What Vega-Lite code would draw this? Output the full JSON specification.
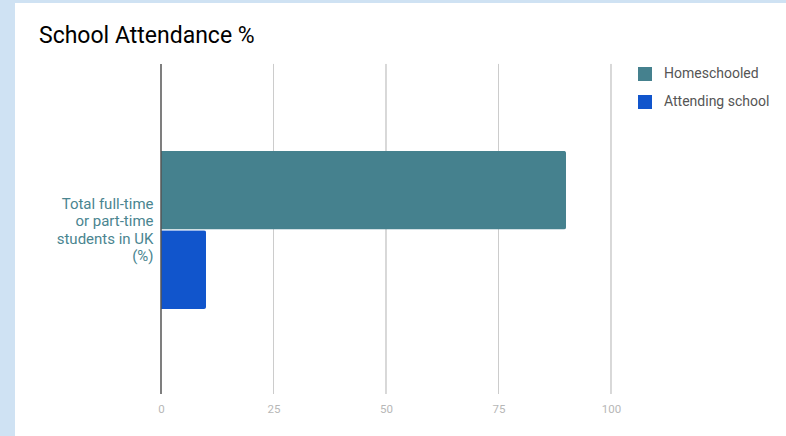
{
  "$schema": "https://vega.github.io/schema/vega-lite/v6.json",
  "width": 771,
  "height": 433,
  "autosize": "none",
  "padding": {"left": 15, "top": 3, "right": 0, "bottom": 0},
  "background": "#cfe2f3",
  "title": {
    "text": "School Attendance %",
    "anchor": "start",
    "frame": "group",
    "offset": 0,
    "baseline": "alphabetic",
    "dx": 24,
    "dy": 63,
    "fontSize": 23,
    "fontWeight": "normal",
    "color": "#000000",
    "font": "Roboto"
  },
  "datasets": {
    "bars": [
      {"cat": "Total full-time\nor part-time\nstudents in UK\n(%)", "series": "Homeschooled", "value": 90},
      {"cat": "Total full-time\nor part-time\nstudents in UK\n(%)", "series": "Attending school", "value": 10}
    ],
    "grid": [
      {"g": "grid", "v": 0},
      {"g": "grid", "v": 25},
      {"g": "grid", "v": 50},
      {"g": "grid", "v": 75},
      {"g": "grid", "v": 100}
    ]
  },
  "layer": [
    {
      "data": {"name": "grid"},
      "transform": [{"filter": "datum.v > 0"}],
      "mark": {"type": "rect", "fill": null, "stroke": "#cccccc", "strokeWidth": 1},
      "encoding": {
        "x": {
          "field": "v",
          "type": "quantitative",
          "scale": {"domain": [-32.444, 138.889], "nice": false, "zero": false},
          "axis": {
            "values": [0, 25, 50, 75, 100],
            "grid": false,
            "domain": false,
            "ticks": false,
            "tickSize": 0,
            "labelPadding": 0,
            "offset": -33,
            "labelFontSize": 11.5,
            "labelColor": "#b7b7b7",
            "labelFont": "Roboto",
            "title": null
          }
        },
        "x2": {"field": "v"},
        "y": {
          "field": "g",
          "type": "nominal",
          "scale": {"paddingInner": 0, "paddingOuter": 0.156, "align": 0.592},
          "axis": null
        }
      }
    },
    {
      "data": {"name": "bars"},
      "mark": {"type": "bar", "cornerRadiusEnd": 2},
      "encoding": {
        "x": {"field": "value", "type": "quantitative"},
        "y": {
          "field": "cat",
          "type": "nominal",
          "scale": {"paddingInner": 0, "paddingOuter": 0.87, "align": 0.538},
          "axis": {
            "title": null,
            "domain": false,
            "ticks": false,
            "tickSize": 0,
            "labelPadding": 0,
            "offset": -138,
            "labelExpr": "split(datum.label, '\\n')",
            "labelFontSize": 15,
            "labelLineHeight": 17.6,
            "labelOffset": -26.4,
            "labelColor": "#4a8590",
            "labelFont": "Roboto",
            "labelAlign": "right",
            "labelBaseline": "middle",
            "labelLimit": 300
          }
        },
        "yOffset": {
          "field": "series",
          "type": "nominal",
          "sort": ["Homeschooled", "Attending school"],
          "scale": {"paddingInner": 0.01, "paddingOuter": 0}
        },
        "color": {
          "field": "series",
          "type": "nominal",
          "sort": ["Homeschooled", "Attending school"],
          "scale": {"domain": ["Homeschooled", "Attending school"], "range": ["#45818e", "#1155cc"]},
          "legend": {
            "title": null,
            "orient": "none",
            "legendX": 623,
            "legendY": 64,
            "padding": 0,
            "symbolType": "square",
            "symbolSize": 196,
            "symbolStrokeWidth": 0,
            "labelFontSize": 14,
            "labelColor": "#555555",
            "labelFont": "Roboto",
            "labelOffset": 12,
            "rowPadding": 14
          }
        }
      }
    },
    {
      "data": {"name": "grid"},
      "transform": [{"filter": "datum.v == 0"}],
      "mark": {"type": "rect", "fill": null, "stroke": "#555555", "strokeWidth": 1.5},
      "encoding": {
        "x": {"field": "v", "type": "quantitative"},
        "x2": {"field": "v"},
        "y": {
          "field": "g",
          "type": "nominal",
          "scale": {"paddingInner": 0, "paddingOuter": 0.156, "align": 0.592},
          "axis": null
        }
      }
    }
  ],
  "resolve": {"scale": {"y": "independent"}},
  "config": {
    "font": "Roboto",
    "view": {"stroke": null, "fill": "#ffffff"}
  }
}
